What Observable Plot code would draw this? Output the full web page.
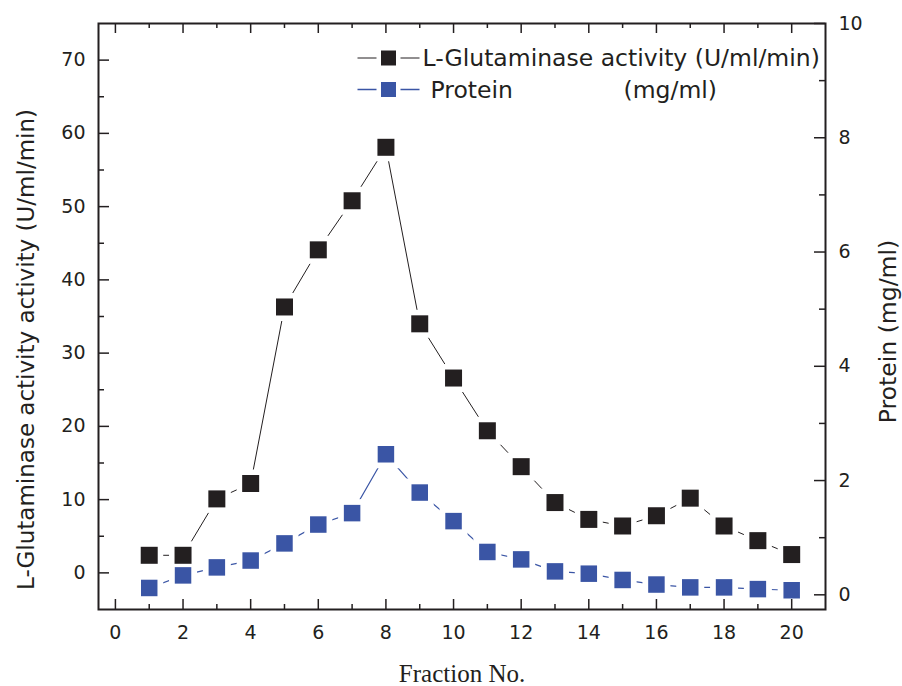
<!DOCTYPE html>
<html><head><meta charset="utf-8">
<script src="https://cdn.jsdelivr.net/npm/d3@7"></script>
<script src="https://cdn.jsdelivr.net/npm/@observablehq/plot@0.6"></script>
<style>body{margin:0;background:#fff}#chart{position:absolute;left:0;top:0}</style>
</head><body><div id="chart"></div>
<script>
// ---- data ----
const fractions = [1,2,3,4,5,6,7,8,9,10,11,12,13,14,15,16,17,18,19,20];
const activity = [2.4,2.4,10.1,12.2,36.3,44.1,50.8,58.1,34.0,26.6,19.4,14.5,9.6,7.3,6.4,7.8,10.2,6.4,4.4,2.5];
const protein = [0.12,0.34,0.48,0.60,0.90,1.23,1.43,2.46,1.79,1.29,0.75,0.62,0.41,0.37,0.26,0.18,0.13,0.13,0.10,0.08];
const xMajor = [0,2,4,6,8,10,12,14,16,18,20];
const xMinor = [1,3,5,7,9,11,13,15,17,19];
const yMajor = [0,10,20,30,40,50,60,70];
const yMinor = [5,15,25,35,45,55,65];
const protMajor = [0,2,4,6,8,10];
const protMinor = [1,3,5,7,9];
const seriesNames = ["L-Glutaminase activity (U/ml/min)", "Protein", "(mg/ml)"];

// ---- layout ----
const W = 902, H = 686, mL = 98, mR = 77, mT = 23, mB = 77;
const plotW = W - mL - mR, plotH = H - mT - mB;
const ink = "#231f20", blue = "#3a55a5";
const font = "DejaVu Sans";
const yDom = [-5, 75], pDom = [-0.257, 10];
const protToY = v => yDom[0] + (v - pDom[0]) * (yDom[1] - yDom[0]) / (pDom[1] - pDom[0]);

const actData = fractions.map((f, i) => ({f, v: activity[i]}));
const protData = fractions.map((f, i) => ({f, v: protToY(protein[i])}));

const seg = (a, b) => ({draw(ctx) { ctx.moveTo(-b, 0); ctx.lineTo(-a, 0); ctx.moveTo(a, 0); ctx.lineTo(b, 0); }});
const sq = s => s / Math.sqrt(Math.PI);

const chart = Plot.plot({
  width: W, height: H, marginLeft: mL, marginRight: mR, marginTop: mT, marginBottom: mB,
  style: {fontFamily: font, color: ink, background: "#fff", overflow: "visible"},
  x: {domain: [-0.5, 21], axis: null},
  y: {domain: yDom, axis: null},
  marks: [
    Plot.lineY(actData, {x: "f", y: "v", stroke: ink, strokeWidth: 1}),
    Plot.lineY(protData, {x: "f", y: "v", stroke: blue, strokeWidth: 1.2}),
    Plot.dot(actData.concat(protData), {x: "f", y: "v", symbol: "square", r: sq(28), fill: "white"}),
    Plot.dot(actData, {x: "f", y: "v", symbol: "square", r: sq(17), fill: ink}),
    Plot.dot(protData, {x: "f", y: "v", symbol: "square", r: sq(16.5), fill: blue}),
    // ticks (inward)
    Plot.ruleX(xMajor, {x: d => d, stroke: ink, strokeWidth: 1.5, insetTop: plotH - 10}),
    Plot.ruleX(xMinor, {x: d => d, stroke: ink, strokeWidth: 1.5, insetTop: plotH - 5}),
    Plot.ruleX(xMajor, {x: d => d, stroke: ink, strokeWidth: 1.5, insetBottom: plotH - 10}),
    Plot.ruleX(xMinor, {x: d => d, stroke: ink, strokeWidth: 1.5, insetBottom: plotH - 5}),
    Plot.ruleY(yMajor, {y: d => d, stroke: ink, strokeWidth: 1.5, insetRight: plotW - 11}),
    Plot.ruleY(yMinor, {y: d => d, stroke: ink, strokeWidth: 1.5, insetRight: plotW - 6}),
    Plot.ruleY(protMajor, {y: d => protToY(d), stroke: ink, strokeWidth: 1.5, insetLeft: plotW - 11}),
    Plot.ruleY(protMinor, {y: d => protToY(d), stroke: ink, strokeWidth: 1.5, insetLeft: plotW - 6}),
    Plot.frame({stroke: ink, strokeWidth: 2}),
    // tick labels
    Plot.text(xMajor, {x: d => d, text: d => String(d), frameAnchor: "bottom", dy: 23, lineAnchor: "middle", fontSize: 19, fill: ink}),
    Plot.text(yMajor, {y: d => d, text: d => String(d), frameAnchor: "left", dx: -13, textAnchor: "end", lineAnchor: "middle", fontSize: 19, fill: ink}),
    Plot.text(protMajor, {y: d => protToY(d), text: d => String(d), frameAnchor: "right", dx: 13, textAnchor: "start", lineAnchor: "middle", fontSize: 19, fill: ink}),
    // axis titles
    Plot.text(["L-Glutaminase activity activity (U/ml/min)"], {frameAnchor: "left", rotate: -90, dx: -65, dy: 33, textAnchor: "middle", lineAnchor: "bottom", fontSize: 23, fill: ink}),
    Plot.text(["Protein (mg/ml)"], {frameAnchor: "right", rotate: -90, dx: 70, dy: 15, textAnchor: "middle", lineAnchor: "bottom", fontSize: 23.5, fill: ink}),
    Plot.text(["Fraction No."], {frameAnchor: "bottom", dy: 72, lineAnchor: "bottom", fontFamily: "Liberation Serif", fontSize: 25, fill: ink}),
    // legend
    Plot.dot([0], {frameAnchor: "top-left", dx: 290, dy: 34.5, symbol: seg(12, 31), r: 5, fill: "none", stroke: ink, strokeWidth: 1}),
    Plot.dot([0], {frameAnchor: "top-left", dx: 290, dy: 34.5, symbol: "square", r: sq(15), fill: ink}),
    Plot.text([seriesNames[0]], {frameAnchor: "top-left", dx: 324, dy: 35, lineAnchor: "middle", textAnchor: "start", fontSize: 23.5, fill: ink}),
    Plot.dot([0], {frameAnchor: "top-left", dx: 290, dy: 66, symbol: seg(12, 31), r: 5, fill: "none", stroke: blue, strokeWidth: 1.3}),
    Plot.dot([0], {frameAnchor: "top-left", dx: 290, dy: 66, symbol: "square", r: sq(15), fill: blue}),
    Plot.text([seriesNames[1]], {frameAnchor: "top-left", dx: 332, dy: 67, lineAnchor: "middle", textAnchor: "start", fontSize: 23.5, fill: ink}),
    Plot.text([seriesNames[2]], {frameAnchor: "top-left", dx: 525, dy: 67, lineAnchor: "middle", textAnchor: "start", fontSize: 23.5, fill: ink})
  ]
});
document.getElementById("chart").appendChild(chart);
</script>
</body></html>
